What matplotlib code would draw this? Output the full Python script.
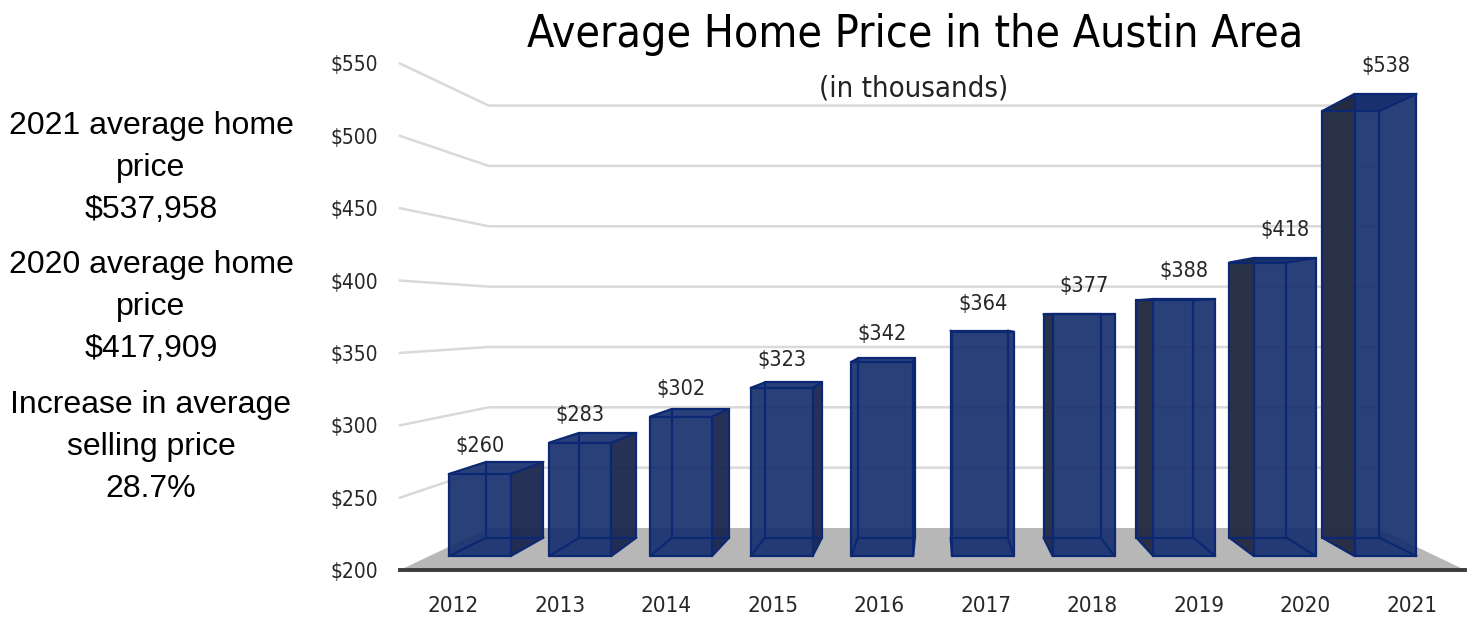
import matplotlib
matplotlib.use("Agg")
import matplotlib.pyplot as plt
from matplotlib import font_manager
from matplotlib.patches import Polygon

# Chart data
years = ["2012", "2013", "2014", "2015", "2016", "2017", "2018", "2019", "2020", "2021"]
prices = [260, 283, 302, 323, 342, 364, 377, 388, 418, 538]
y_ticks = [200, 250, 300, 350, 400, 450, 500, 550]
y_tick_labels = ["$200", "$250", "$300", "$350", "$400", "$450", "$500", "$550"]
title = "Average Home Price in the Austin Area"
subtitle = "(in thousands)"
side_notes = ["2021 average home\nprice\n$537,958",
              "2020 average home\nprice\n$417,909",
              "Increase in average\nselling price\n28.7%"]

# Fake 3D look: everything is drawn in the front plane (category, value)
# and pulled towards a vanishing point by a depth scale factor.
VP_X, VP_V = 5.02, 374.8
FLOOR_FRONT, FLOOR_BACK = 1.0, 0.834
BAR_FRONT, BAR_BACK = 0.945, 0.872
BAR_W = 0.615
BASE = 200

FRONT_COL = "#18316f"
TOP_COL = "#1d3674"
RIGHT_SIDE_COL = "#1a264f"
LEFT_SIDE_COL = "#232b42"
EDGE_COL = "#0c2872"


def pick_narrow_font():
    """ Find a condensed sans face, the chart text is narrow. """
    entries = font_manager.fontManager.ttflist
    for name in ("Liberation Sans Narrow",):
        for f in entries:
            if f.name == name and f.style == "normal" and f.weight in (400, "normal", "regular"):
                return font_manager.FontProperties(fname=f.fname)
    for f in entries:
        if f.name in ("Noto Sans", "Open Sans", "DejaVu Sans") and f.stretch in ("condensed", "semi-condensed") \
                and f.style == "normal" and f.weight in (400, "normal", "regular"):
            return font_manager.FontProperties(fname=f.fname)
    return font_manager.FontProperties(family="DejaVu Sans")


def project(x, v, s):
    return VP_X + (x - VP_X) * s, VP_V + (v - VP_V) * s


def draw_box(ax, idx, value):
    x0, x1 = idx + 0.5 - BAR_W / 2, idx + 0.5 + BAR_W / 2
    c = {}
    for xn, xv in (("l", x0), ("r", x1)):
        for vn, vv in (("b", BASE), ("t", value)):
            for dn, s in (("f", BAR_FRONT), ("k", BAR_BACK)):
                c[xn + vn + dn] = project(xv, vv, s)

    faces = [(["ltf", "rtf", "rtk", "ltk"], TOP_COL, 0.95)]
    if idx + 0.5 < VP_X:
        faces.append((["rbf", "rtf", "rtk", "rbk"], RIGHT_SIDE_COL, 0.95))
    else:
        faces.append((["lbf", "ltf", "ltk", "lbk"], LEFT_SIDE_COL, 0.97))
    faces.append((["lbf", "rbf", "rtf", "ltf"], FRONT_COL, 0.93))
    for keys, col, alpha in faces:
        ax.add_patch(Polygon([c[k] for k in keys], closed=True, facecolor=col,
                             edgecolor="none", alpha=alpha, zorder=3))

    edges = [("lbf", "rbf"), ("rbf", "rtf"), ("rtf", "ltf"), ("ltf", "lbf"),
             ("lbk", "rbk"), ("rbk", "rtk"), ("rtk", "ltk"), ("ltk", "lbk"),
             ("lbf", "lbk"), ("rbf", "rbk"), ("rtf", "rtk"), ("ltf", "ltk")]
    for a, b in edges:
        ax.plot([c[a][0], c[b][0]], [c[a][1], c[b][1]], color=EDGE_COL, lw=1.6,
                solid_capstyle="round", zorder=4)


narrow = pick_narrow_font()
arial = font_manager.FontProperties(family="Liberation Sans")

fig = plt.figure(figsize=(14.72, 6.18), dpi=100)
ax = fig.add_axes([400 / 1472, 48 / 618, 1065 / 1472, 506.5 / 618])
ax.set_xlim(0, len(years))
ax.set_ylim(y_ticks[0], y_ticks[-1])
for sp in ax.spines.values():
    sp.set_visible(False)

# Floor
floor = [project(0, BASE, FLOOR_FRONT), project(len(years), BASE, FLOOR_FRONT),
         project(len(years), BASE, FLOOR_BACK), project(0, BASE, FLOOR_BACK)]
ax.add_patch(Polygon(floor, closed=True, facecolor="#b7b7b7", edgecolor="none", zorder=1, clip_on=False))
ax.plot([0, len(years)], [BASE, BASE], color="#3c3c3c", lw=2.8, zorder=2, clip_on=False)

# Side wall + back wall gridlines
for v in y_ticks[1:]:
    p0 = project(0, v, FLOOR_FRONT)
    p1 = project(0, v, FLOOR_BACK)
    p2 = project(len(years), v, FLOOR_BACK)
    ax.plot([p0[0], p1[0], p2[0]], [p0[1], p1[1], p2[1]], color="#d9d9d9", lw=1.8,
            zorder=1.5, clip_on=False)

# Bars and value labels
for i, price in enumerate(prices):
    draw_box(ax, i, price)
    ax.annotate(f"${price}", xy=project(i + 0.5, price, BAR_FRONT), xytext=(0, 20),
                textcoords="offset points", ha="center", va="center",
                fontproperties=narrow, fontsize=15.5, color="#262626", zorder=5,
                annotation_clip=False)

ax.set_xticks([i + 0.5 for i in range(len(years))])
ax.set_xticklabels(years)
ax.set_yticks(y_ticks)
ax.set_yticklabels(y_tick_labels)
ax.tick_params(axis="x", length=0, pad=19, colors="#262626")
ax.tick_params(axis="y", length=0, pad=16, colors="#262626")
for lab in ax.get_xticklabels():
    lab.set_fontproperties(narrow)
    lab.set_fontsize(16)
for lab in ax.get_yticklabels():
    lab.set_fontproperties(narrow)
    lab.set_fontsize(15)

# Titles
fig.text(915 / 1472, 1 - 35 / 618, title, fontproperties=narrow, fontsize=32,
         ha="center", va="center", color="black")
fig.text(914 / 1472, 1 - 89 / 618, subtitle, fontproperties=narrow, fontsize=21,
         ha="center", va="center", color="#222222")

# Notes on the left
for note, yc in zip(side_notes, [168, 307, 447]):
    fig.text(151 / 1472, 1 - yc / 618, note, fontproperties=arial, fontsize=23,
             ha="center", va="center", multialignment="center", linespacing=1.53,
             color="black")

fig.savefig("out.png", dpi=100)
